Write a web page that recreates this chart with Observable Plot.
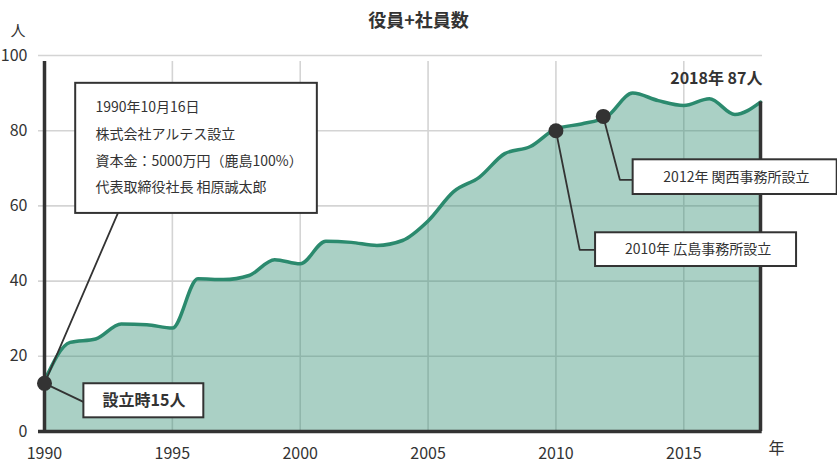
<!DOCTYPE html>
<html>
<head>
<meta charset="utf-8">
<script src="https://cdn.jsdelivr.net/npm/d3@7"></script>
<script src="https://cdn.jsdelivr.net/npm/@observablehq/plot@0.6"></script>
<style>
  html, body { margin: 0; padding: 0; background: #fff; }
</style>
</head>
<body>
<div id="chart"></div>
<script>
// ---- data ----
const title = "役員+社員数";
const years = [1990,1991,1992,1993,1994,1995,1996,1997,1998,1999,2000,2001,2002,2003,2004,2005,2006,2007,2008,2009,2010,2011,2012,2013,2014,2015,2016,2017,2018];
const members = [13.5,23.7,24.6,28.6,28.4,27.5,40.6,40.4,41.5,45.7,44.6,50.6,50.3,49.5,50.8,56.0,63.8,67.6,73.9,75.8,80.5,81.8,83.8,90.0,88.0,86.7,88.5,84.3,87.6];
const xTicks = [1990,1995,2000,2005,2010,2015];
const yTicks = [0,20,40,60,80,100];
const xUnit = "年";
const yUnit = "人";
const endLabel = "2018年 87人";

// annotation events (year, value)
const eventIds = ["found","hiroshima","kansai"];
const eventYears = [1990, 2010, 2011.85];
const eventValues = [12.8, 80, 83.8];

// callout boxes (in data units)
const boxIds = ["info","found","hiroshima","kansai"];
const boxX1 = [1991.22, 1991.54, 2011.55, 2013.02];
const boxX2 = [2000.67, 1996.23, 2019.41, 2021.0];
const boxY1 = [92.6, 12.7, 52.85, 72.26];
const boxY2 = [58.0, 3.64, 43.88, 63.03];

// connector polylines
const connId = ["info","info","found","found","hiroshima","hiroshima","hiroshima","kansai","kansai","kansai"];
const connX  = [1990, 1992.87, 1990, 1991.54, 2010, 2010.93, 2011.55, 2011.85, 2012.50, 2013.02];
const connY  = [12.8, 58.1, 12.8, 7.8, 80, 48.3, 48.3, 83.8, 66.94, 66.94];

// callout texts
const infoLines = ["1990年10月16日","株式会社アルテス設立","資本金：5000万円（鹿島100%）","代表取締役社長 相原誠太郎"];
const infoLineY = [86.1, 79.0, 71.9, 64.8];
const infoX = 1991.99;
const foundText = "設立時15人";
const officeTexts = ["2010年 広島事務所設立","2012年 関西事務所設立"];
const officeTextX = [2015.56, 2017.06];
const officeTextY = [48.3, 67.5];

// ---- build tables ----
const data = years.map((y,i) => ({year: y, value: members[i]}));
const events = eventIds.map((id,i) => ({id, year: eventYears[i], value: eventValues[i]}));
const boxes = boxIds.map((id,i) => ({id, x1: boxX1[i], x2: boxX2[i], y1: boxY1[i], y2: boxY2[i]}));
const conns = connId.map((id,i) => ({id, x: connX[i], y: connY[i]}));
const infoTbl = infoLines.map((t,i) => ({t, x: infoX, y: infoLineY[i]}));
const officeTbl = officeTexts.map((t,i) => ({t, x: officeTextX[i], y: officeTextY[i]}));
const last = data[data.length-1];

const dark = "#333333";
const green = "#2b8a6e";
const grid = "#d4d4d4";

const chart = Plot.plot({
  width: 837,
  height: 463,
  marginLeft: 44,
  marginRight: 77,
  marginTop: 55,
  marginBottom: 32,
  x: {domain: [1990, 2018], label: null},
  y: {domain: [0, 100], label: null},
  style: {fontFamily: "'Noto Sans CJK JP', 'Noto Sans', sans-serif", color: dark, background: "#fff", overflow: "visible"},
  marks: [
    // gridlines
    Plot.ruleY(yTicks.filter(d => d > 0), {y: d => d, x1: 1990, x2: 2018, stroke: grid, strokeWidth: 1.6, insetLeft: -6, insetRight: -2}),
    Plot.ruleX(xTicks.filter(d => d > 1990), {x: d => d, y1: 0, y2: 100, stroke: grid, strokeWidth: 1.6, insetBottom: -6}),
    // area + line
    Plot.areaY(data, {x: "year", y: "value", fill: green, fillOpacity: 0.4, curve: "monotone-x"}),
    Plot.lineY(data, {x: "year", y: "value", stroke: green, strokeWidth: 3.5, curve: "monotone-x"}),
    // right edge
    Plot.ruleX([last], {x: "year", y1: 0, y2: "value", stroke: dark, strokeWidth: 3.5}),
    // axis lines
    Plot.ruleX([1990], {x: d => d, y1: 0, y2: 100, stroke: dark, strokeWidth: 3.5, insetBottom: -6}),
    Plot.ruleY([0], {y: d => d, x1: 1990, x2: 2018, stroke: dark, strokeWidth: 3.5, insetLeft: -6, insetRight: -1.7}),
    // axes
    Plot.axisX({ticks: xTicks, tickSize: 0, tickPadding: 16, fontSize: 16, tickFormat: "d", label: null}),
    Plot.axisY({ticks: yTicks, tickSize: 0, tickPadding: 17, fontSize: 16, label: null}),
    // unit labels
    Plot.text([yUnit], {frameAnchor: "top-left", dx: -26.5, dy: -30, textAnchor: "middle", fontSize: 15}),
    Plot.text([xUnit], {frameAnchor: "bottom-right", dx: 16, dy: 22, textAnchor: "middle", fontSize: 16}),
    // title
    Plot.text([title], {frameAnchor: "top", dx: 16, dy: -41, fontSize: 18, fontWeight: "bold"}),
    // connectors
    Plot.line(conns, {x: "x", y: "y", z: "id", stroke: dark, strokeWidth: 1.8, curve: "linear"}),
    // boxes
    Plot.rect(boxes, {x1: "x1", x2: "x2", y1: "y1", y2: "y2", fill: "#fff", stroke: dark, strokeWidth: 2}),
    // event dots
    Plot.dot(events, {x: "year", y: "value", r: 7.5, fill: dark}),
    // box texts
    Plot.text(infoTbl, {x: "x", y: "y", text: "t", textAnchor: "start", fontSize: 14, fill: dark}),
    Plot.text([foundText], {x: 1993.89, y: 8.24, fontSize: 16, fontWeight: "bold", fill: dark}),
    Plot.text(officeTbl, {x: "x", y: "y", text: "t", fontSize: 14, fill: dark}),
    // end label
    Plot.text([endLabel], {x: last.year, y: 93.9, textAnchor: "end", dx: 2, fontSize: 16, fontWeight: "bold", fill: dark})
  ]
});
document.getElementById("chart").appendChild(chart);
</script>
</body>
</html>
